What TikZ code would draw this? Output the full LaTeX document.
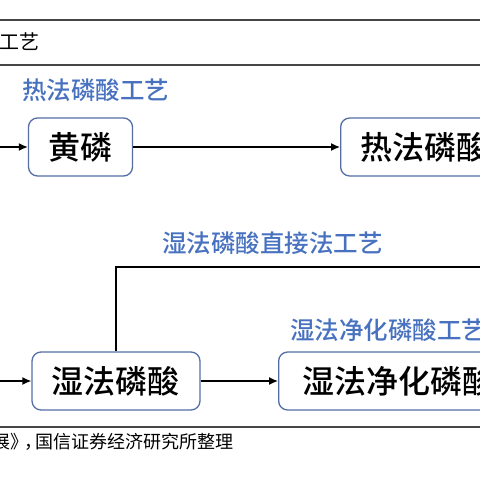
\documentclass[tikz,border=0pt]{standalone}
\usepackage{fontspec}
\setmainfont{Noto Sans CJK SC}
\newfontfamily\midfont{Noto Sans CJK SC Medium}
\usetikzlibrary{arrows.meta}
\definecolor{labblue}{RGB}{72,114,192}
\definecolor{boxblue}{RGB}{84,110,165}
\definecolor{rulegray}{RGB}{70,70,70}
\tikzset{
  procbox/.style={draw=boxblue,line width=1.3pt,rounded corners=9pt,fill=white,
    minimum height=58pt,inner xsep=20pt,inner ysep=0pt,font=\midfont\fontsize{32}{36}\selectfont},
  steplabel/.style={text=labblue,inner sep=0pt,font=\midfont\fontsize{24.5}{28}\selectfont},
  flow/.style={line width=1.3pt,-{Latex[length=9pt,width=8pt]}},
  rule/.style={rulegray,line width=1.4pt}
}
\begin{document}
\begin{tikzpicture}[x=1pt,y=-1pt]
\useasboundingbox (0,0) rectangle (480,480);
\draw[rule](0,20)--(480,20)(0,65)--(480,65)(0,427)--(480,427);
\node[anchor=west,inner sep=0pt,font=\fontsize{20}{24}\selectfont] (title) at (-1,42) {工艺};
% thermal route
\node[steplabel,anchor=west] (rflab) at (22,90) {热法磷酸工艺};
\coordinate (in1) at (0,147);
\node[procbox,minimum width=101pt] (hp) at (80.5,147) {黄磷};
\node[procbox,anchor=west] (rf) at (340,147) {热法磷酸};
\draw[flow](in1)--(hp);
\draw[flow](hp)--(rf);
% wet route
\node[steplabel,anchor=west] (zjlab) at (162,243) {湿法磷酸直接法工艺};
\node[steplabel,anchor=west] (jhlab) at (290,330) {湿法净化磷酸工艺};
\coordinate (in2) at (0,381);
\coordinate (out) at (490,267);
\node[procbox,minimum width=168pt] (sf) at (116,381) {湿法磷酸};
\node[procbox,anchor=west,inner xsep=24pt] (jh) at (278,381) {湿法净化磷酸};
\draw[flow](in2)--(sf);
\draw[flow](sf)--(jh);
\draw[line width=1.3pt](sf.north)|-(out);
\node[anchor=east,inner sep=0pt,font=\fontsize{18}{22}\selectfont] (src) at (234,442) {展》\kern-4pt，\kern-7pt国信证券经济研究所整理};
\end{tikzpicture}
\end{document}
